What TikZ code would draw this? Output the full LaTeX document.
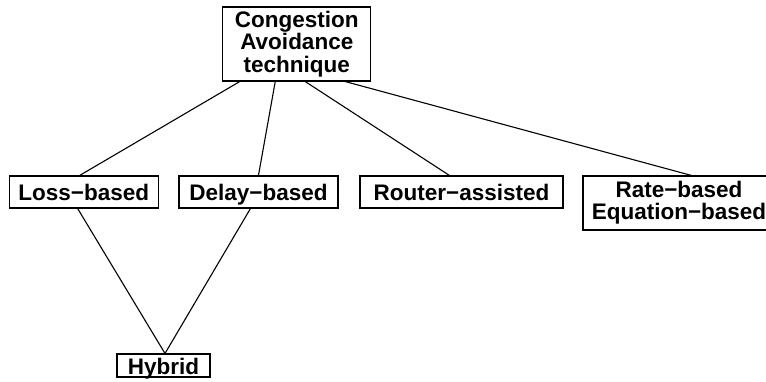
\documentclass[tikz,border=0pt]{standalone}
\usepackage{fontspec}
\setmainfont{Liberation Sans}
\usetikzlibrary{calc}
\begin{document}
\begin{tikzpicture}[x=1pt,y=-1pt,
  box/.style={draw,line width=1.1pt,inner sep=0pt,align=center,
    font=\fontsize{22.5}{22.3}\selectfont\bfseries},
  onerow/.style={box,text height=19.5pt,text depth=2pt},
  link/.style={line width=1.1pt}]
\useasboundingbox (0,0) rectangle (766,381);
\begin{scope}
\clip (0,0) rectangle (766,381);
\node[box,minimum width=148pt,minimum height=74pt] (top) at (296.8,44) {Congestion\\Avoidance\\technique};
\node[onerow,minimum width=149pt,minimum height=32pt] (loss) at (83.7,192) {Loss\textminus based};
\node[onerow,minimum width=159pt,minimum height=32pt] (delay) at (258.5,192) {Delay\textminus based};
\node[onerow,minimum width=203pt,minimum height=32pt] (router) at (461.5,192) {Router\textminus assisted};
\node[box,minimum width=192pt,minimum height=54pt] (rate) at (679,203) {Rate\textminus based\\Equation\textminus based};
\node[onerow,minimum width=93pt,minimum height=23pt] (hyb) at (163.5,365.5) {Hybrid};
\coordinate (t1) at ($(top.south west)+(17.5,0)$);
\coordinate (t2) at ($(top.south west)+(53,0)$);
\coordinate (t3) at ($(top.south west)+(83,0)$);
\coordinate (t4) at ($(top.south west)+(123,0)$);
\coordinate (l1) at ($(loss.north west)+(71,0)$);
\coordinate (d1) at ($(delay.north west)+(80,0)$);
\coordinate (r1) at ($(router.north west)+(90,0)$);
\coordinate (q1) at ($(rate.north west)+(109,0)$);
\coordinate (l2) at ($(loss.south west)+(69,0)$);
\coordinate (d2) at ($(delay.south west)+(72,0)$);
\coordinate (h1) at ($(hyb.north)+(1.5,0)$);
\draw[link] (t1) -- (l1);
\draw[link] (t2) -- (d1);
\draw[link] (t3) -- (r1);
\draw[link] (t4) -- (q1);
\draw[link] (l2) -- (h1);
\draw[link] (d2) -- (h1);
\end{scope}
\end{tikzpicture}
\end{document}
